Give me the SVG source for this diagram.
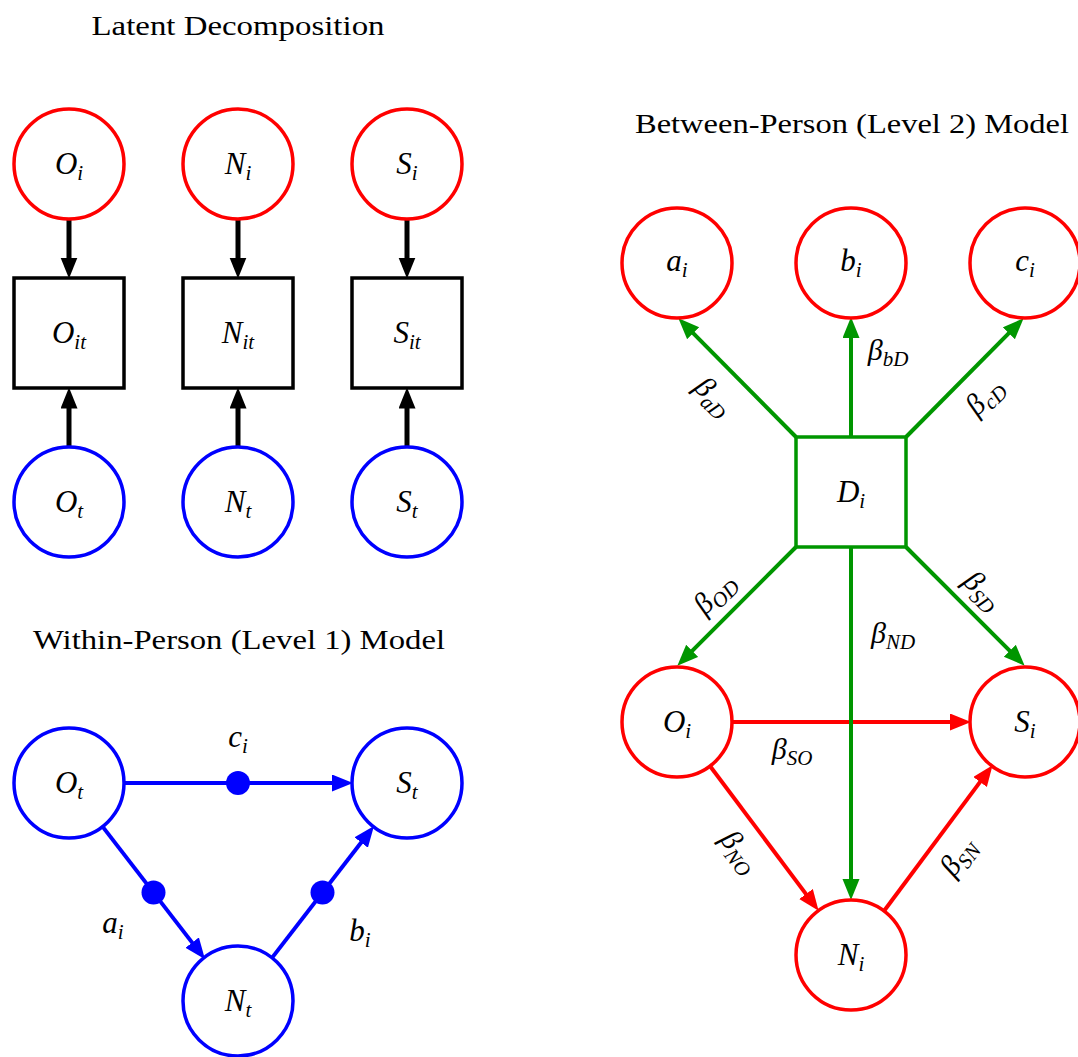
<svg xmlns="http://www.w3.org/2000/svg" width="1078" height="1057" viewBox="0 0 1078 1057">
<defs>
<style>
.title{font-family:"Liberation Serif","DejaVu Serif",serif;font-size:28px;fill:#000;text-anchor:middle}
.m{font-family:"Liberation Serif","DejaVu Serif",serif;font-style:italic;font-size:31px;fill:#000;text-anchor:middle}
.e{font-family:"Liberation Serif","DejaVu Serif",serif;font-style:italic;font-size:30px;fill:#000;text-anchor:middle}
.s{font-size:21px}
.cr{fill:#fff;stroke:#ff0000;stroke-width:3.5}
.cb{fill:#fff;stroke:#0000ff;stroke-width:3.5}
.rk{fill:#fff;stroke:#000;stroke-width:3.5}
.rg{fill:#fff;stroke:#009600;stroke-width:3.5}
.lk{stroke:#000;stroke-width:5;fill:none;marker-end:url(#ak)}
.lb{stroke:#0000ff;stroke-width:4;fill:none;marker-end:url(#ab)}
.lg{stroke:#009600;stroke-width:4;fill:none;marker-end:url(#ag)}
.lr{stroke:#ff0000;stroke-width:4;fill:none;marker-end:url(#ar)}
.dot{fill:#0000ff}
</style>
<marker id="ak" markerUnits="userSpaceOnUse" markerWidth="22" markerHeight="18" refX="12" refY="8.5" orient="auto" viewBox="0 0 22 18"><path d="M0,0 L21,8.5 L0,17 z" fill="#000"/></marker>
<marker id="ab" markerUnits="userSpaceOnUse" markerWidth="22" markerHeight="18" refX="12" refY="8.5" orient="auto" viewBox="0 0 22 18"><path d="M0,0 L21,8.5 L0,17 z" fill="#0000ff"/></marker>
<marker id="ag" markerUnits="userSpaceOnUse" markerWidth="22" markerHeight="18" refX="12" refY="8.5" orient="auto" viewBox="0 0 22 18"><path d="M0,0 L21,8.5 L0,17 z" fill="#009600"/></marker>
<marker id="ar" markerUnits="userSpaceOnUse" markerWidth="22" markerHeight="18" refX="12" refY="8.5" orient="auto" viewBox="0 0 22 18"><path d="M0,0 L21,8.5 L0,17 z" fill="#ff0000"/></marker>
</defs>
<rect width="1078" height="1057" fill="#fff"/>

<text class="title" x="238" y="35" textLength="293" lengthAdjust="spacingAndGlyphs">Latent Decomposition</text>
<text class="title" x="239" y="649" textLength="412" lengthAdjust="spacingAndGlyphs">Within-Person (Level 1) Model</text>
<text class="title" x="852" y="133" textLength="434" lengthAdjust="spacingAndGlyphs">Between-Person (Level 2) Model</text>

<g id="connectors">
<line class="lk" x1="69" y1="219.5" x2="69" y2="269.5"/>
<line class="lk" x1="238" y1="219.5" x2="238" y2="269.5"/>
<line class="lk" x1="407" y1="219.5" x2="407" y2="269.5"/>
<line class="lk" x1="69" y1="446.5" x2="69" y2="396.5"/>
<line class="lk" x1="238" y1="446.5" x2="238" y2="396.5"/>
<line class="lk" x1="407" y1="446.5" x2="407" y2="396.5"/>

<line class="lb" x1="124" y1="783" x2="344" y2="783"/>
<line class="lb" x1="102.6" y1="826.6" x2="199.5" y2="952.1"/>
<line class="lb" x1="271.6" y1="958.4" x2="368.5" y2="833"/>
<circle class="dot" cx="238" cy="783" r="12"/>
<circle class="dot" cx="153.5" cy="892.5" r="12"/>
<circle class="dot" cx="322.5" cy="892.5" r="12"/>

<line class="lg" x1="796" y1="437" x2="684.7" y2="324.7"/>
<line class="lg" x1="851" y1="437" x2="851" y2="326"/>
<line class="lg" x1="906" y1="437" x2="1017.3" y2="324.7"/>
<line class="lg" x1="796" y1="547" x2="683.7" y2="659.3"/>
<line class="lg" x1="906" y1="547" x2="1018.3" y2="659.3"/>
<line class="lr" x1="732" y1="722" x2="962" y2="722"/>
<line class="lg" x1="851" y1="547" x2="851" y2="891"/>
<line class="lr" x1="710" y1="766" x2="813.2" y2="903.6"/>
<line class="lr" x1="884" y1="911" x2="987.2" y2="772.4"/>
</g>

<g id="edge-labels">
<text class="m" x="238" y="747">c<tspan class="s" dy="6">i</tspan></text>
<text class="m" x="113" y="933">a<tspan class="s" dy="6">i</tspan></text>
<text class="m" x="360" y="941">b<tspan class="s" dy="6">i</tspan></text>

<text class="e" transform="translate(712,398) rotate(45)" x="0" y="7">β<tspan class="s" dy="6">aD</tspan></text>
<text class="e" x="888" y="360">β<tspan class="s" dy="6">bD</tspan></text>
<text class="e" transform="translate(986,398) rotate(-45)" x="0" y="7">β<tspan class="s" dy="6">cD</tspan></text>
<text class="e" transform="translate(716,595) rotate(-45)" x="0" y="7">β<tspan class="s" dy="6">OD</tspan></text>
<text class="e" transform="translate(981,592) rotate(45)" x="0" y="7">β<tspan class="s" dy="6">SD</tspan></text>
<text class="e" x="893" y="643">β<tspan class="s" dy="6">ND</tspan></text>
<text class="e" x="792" y="759">β<tspan class="s" dy="6">SO</tspan></text>
<text class="e" transform="translate(738,853) rotate(53)" x="0" y="7">β<tspan class="s" dy="6">NO</tspan></text>
<text class="e" transform="translate(960,858) rotate(-53)" x="0" y="7">β<tspan class="s" dy="6">SN</tspan></text>
</g>

<g id="Oi_top"><circle class="cr" cx="69" cy="164" r="55"/><text class="m" x="69" y="174">O<tspan class="s" dy="6">i</tspan></text></g>
<g id="Ni_top"><circle class="cr" cx="238" cy="164" r="55"/><text class="m" x="238" y="174">N<tspan class="s" dy="6">i</tspan></text></g>
<g id="Si_top"><circle class="cr" cx="407" cy="164" r="55"/><text class="m" x="407" y="174">S<tspan class="s" dy="6">i</tspan></text></g>
<g id="Oit"><rect class="rk" x="14" y="278" width="110" height="110"/><text class="m" x="69" y="343">O<tspan class="s" dy="6">it</tspan></text></g>
<g id="Nit"><rect class="rk" x="183" y="278" width="110" height="110"/><text class="m" x="238" y="343">N<tspan class="s" dy="6">it</tspan></text></g>
<g id="Sit"><rect class="rk" x="352" y="278" width="110" height="110"/><text class="m" x="407" y="343">S<tspan class="s" dy="6">it</tspan></text></g>
<g id="Ot_top"><circle class="cb" cx="69" cy="502" r="55"/><text class="m" x="69" y="512">O<tspan class="s" dy="6">t</tspan></text></g>
<g id="Nt_top"><circle class="cb" cx="238" cy="502" r="55"/><text class="m" x="238" y="512">N<tspan class="s" dy="6">t</tspan></text></g>
<g id="St_top"><circle class="cb" cx="407" cy="502" r="55"/><text class="m" x="407" y="512">S<tspan class="s" dy="6">t</tspan></text></g>

<g id="Ot"><circle class="cb" cx="69" cy="783" r="55"/><text class="m" x="69" y="793">O<tspan class="s" dy="6">t</tspan></text></g>
<g id="St"><circle class="cb" cx="407" cy="783" r="55"/><text class="m" x="407" y="793">S<tspan class="s" dy="6">t</tspan></text></g>
<g id="Nt"><circle class="cb" cx="238" cy="1001" r="55"/><text class="m" x="238" y="1011">N<tspan class="s" dy="6">t</tspan></text></g>

<g id="ai"><circle class="cr" cx="677" cy="263" r="55"/><text class="m" x="677" y="271">a<tspan class="s" dy="6">i</tspan></text></g>
<g id="bi"><circle class="cr" cx="851" cy="263" r="55"/><text class="m" x="851" y="271">b<tspan class="s" dy="6">i</tspan></text></g>
<g id="ci"><circle class="cr" cx="1025" cy="263" r="55"/><text class="m" x="1025" y="271">c<tspan class="s" dy="6">i</tspan></text></g>
<g id="Di"><rect class="rg" x="796" y="437" width="110" height="110"/><text class="m" x="851" y="502">D<tspan class="s" dy="6">i</tspan></text></g>
<g id="Oi"><circle class="cr" cx="677" cy="722" r="55"/><text class="m" x="677" y="732">O<tspan class="s" dy="6">i</tspan></text></g>
<g id="Si"><circle class="cr" cx="1025" cy="722" r="55"/><text class="m" x="1025" y="732">S<tspan class="s" dy="6">i</tspan></text></g>
<g id="Ni"><circle class="cr" cx="851" cy="955" r="55"/><text class="m" x="851" y="965">N<tspan class="s" dy="6">i</tspan></text></g>
</svg>
